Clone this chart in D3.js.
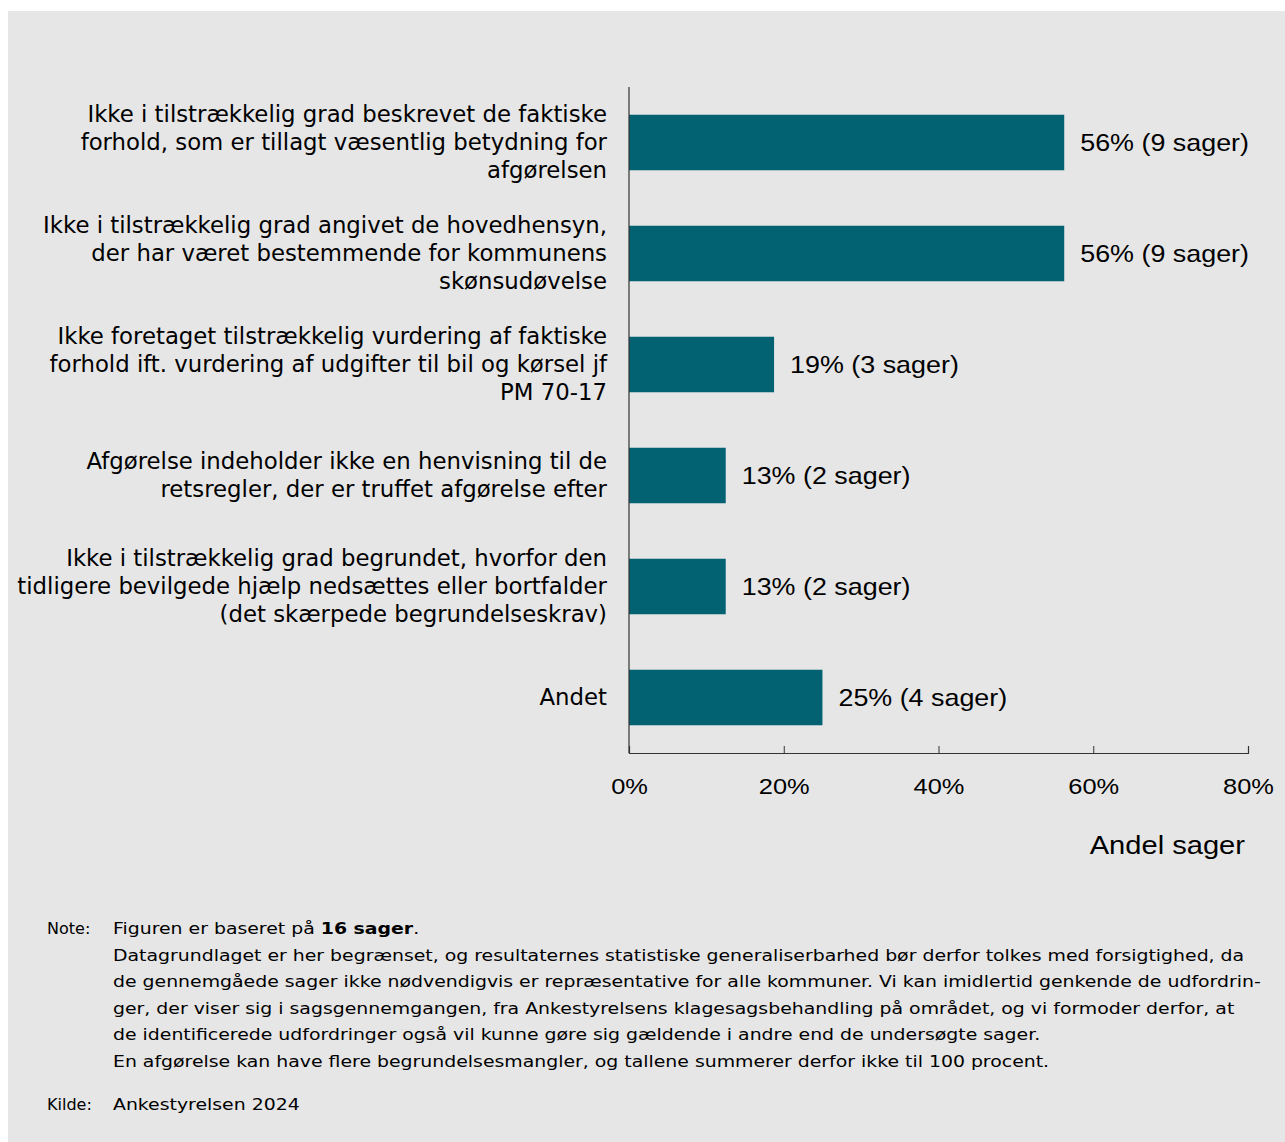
<!DOCTYPE html>
<html>
<head>
<meta charset="utf-8">
<script src="https://cdn.jsdelivr.net/npm/d3@7"></script>
<style>
  body { margin: 0; background: #ffffff; }
  svg { display: block; }
</style>
</head>
<body>
<div id="chart"></div>
<script>
// data
const kategorier = [
  ["Ikke i tilstrækkelig grad beskrevet de faktiske", "forhold, som er tillagt væsentlig betydning for", "afgørelsen"],
  ["Ikke i tilstrækkelig grad angivet de hovedhensyn,", "der har været bestemmende for kommunens", "skønsudøvelse"],
  ["Ikke foretaget tilstrækkelig vurdering af faktiske", "forhold ift. vurdering af udgifter til bil og kørsel jf", "PM 70-17"],
  ["Afgørelse indeholder ikke en henvisning til de", "retsregler, der er truffet afgørelse efter"],
  ["Ikke i tilstrækkelig grad begrundet, hvorfor den", "tidligere bevilgede hjælp nedsættes eller bortfalder", "(det skærpede begrundelseskrav)"],
  ["Andet"]
];
const andele = [0.5625, 0.5625, 0.1875, 0.125, 0.125, 0.25];
const sager = [9, 9, 3, 2, 2, 4];
const tickVaerdier = [0, 0.2, 0.4, 0.6, 0.8];

const noteLinjer = [
  "Datagrundlaget er her begrænset, og resultaternes statistiske generaliserbarhed bør derfor tolkes med forsigtighed, da",
  "de gennemgåede sager ikke nødvendigvis er repræsentative for alle kommuner. Vi kan imidlertid genkende de udfordrin-",
  "ger, der viser sig i sagsgennemgangen, fra Ankestyrelsens klagesagsbehandling på området, og vi formoder derfor, at",
  "de identificerede udfordringer også vil kunne gøre sig gældende i andre end de undersøgte sager.",
  "En afgørelse kan have flere begrundelsesmangler, og tallene summerer derfor ikke til 100 procent."
];

const W = 1285, H = 1142;
const arial = "Liberation Sans, Arial, sans-serif";
const svg = d3.select("#chart").append("svg")
  .attr("width", W)
  .attr("height", H);

svg.append("rect")
  .attr("x", 8).attr("y", 11)
  .attr("width", W - 8).attr("height", H - 11)
  .attr("fill", "#e6e6e6");

const x = d3.scaleLinear().domain([0, 0.8]).range([629, 1248]);
const y = d3.scaleBand().domain(d3.range(andele.length)).range([87, 753]).paddingInner(0.5).paddingOuter(0.25);

const g = svg.append("g");

// bars
g.selectAll("rect.bar")
  .data(andele)
  .join("rect")
  .attr("class", "bar")
  .attr("x", x(0))
  .attr("y", (d, i) => y(i))
  .attr("width", d => x(d) - x(0))
  .attr("height", y.bandwidth())
  .attr("fill", "#026272");

// value labels (the source text is a bit wider than Arial, so stretch it)
g.selectAll("text.val")
  .data(andele)
  .join("text")
  .attr("class", "val")
  .attr("transform", (d, i) => `translate(${x(d) + 16},${y(i) + y.bandwidth() / 2}) scale(1.12,1)`)
  .attr("dy", "0.35em")
  .attr("font-family", arial)
  .attr("font-size", 24)
  .attr("fill", "#000")
  .text((d, i) => Math.round(d * 100) + "% (" + sager[i] + " sager)");

// category labels
const lh = 28;
g.selectAll("text.cat")
  .data(kategorier)
  .join("text")
  .attr("class", "cat")
  .attr("text-anchor", "end")
  .attr("font-family", "DejaVu Sans, Verdana, sans-serif")
  .attr("font-size", 22.8)
  .attr("fill", "#000")
  .each(function(lines, i) {
    const cy = y(i) + y.bandwidth() / 2;
    const top = cy - (lines.length - 1) * lh / 2;
    d3.select(this).selectAll("tspan")
      .data(lines)
      .join("tspan")
      .attr("x", 607)
      .attr("y", (l, j) => top + j * lh)
      .attr("dy", "0.35em")
      .text(l => l);
  });

// x axis
const xAxis = d3.axisBottom(x)
  .tickValues(tickVaerdier)
  .tickSize(-7)
  .tickPadding(25)
  .tickFormat(d3.format(".0%"));

const ax = g.append("g")
  .attr("transform", "translate(0,753)")
  .call(xAxis);
ax.select(".domain").attr("stroke", "#333").attr("stroke-width", 1.2);
ax.selectAll(".tick line").attr("stroke", "#333");
ax.selectAll(".tick text")
  .attr("font-family", arial)
  .attr("font-size", 22.5)
  .attr("fill", "#000")
  .attr("transform", "scale(1.13,1)");

// y axis line
g.append("line")
  .attr("x1", x(0)).attr("x2", x(0))
  .attr("y1", 87).attr("y2", 753)
  .attr("stroke", "#333")
  .attr("stroke-width", 1.2);

svg.append("text")
  .attr("transform", "translate(1245,854) scale(1.12,1)")
  .attr("text-anchor", "end")
  .attr("font-family", arial)
  .attr("font-size", 26)
  .attr("fill", "#000")
  .text("Andel sager");

// note
const sx = 1.18;
const note = svg.append("g").attr("font-family", "DejaVu Sans, Verdana, sans-serif").attr("font-size", 16).attr("fill", "#000");
note.append("text").attr("x", 47).attr("y", 934).text("Note:");
const first = note.append("text").attr("transform", `translate(113,934) scale(${sx},1)`);
first.append("tspan").text("Figuren er baseret på ");
first.append("tspan").attr("font-weight", "bold").text("16 sager");
first.append("tspan").text(".");
note.selectAll("text.nl")
  .data(noteLinjer)
  .join("text")
  .attr("class", "nl")
  .attr("transform", (d, i) => `translate(113,${934 + (i + 1) * 26.6}) scale(${sx},1)`)
  .text(d => d);
note.append("text").attr("x", 47).attr("y", 1110).text("Kilde:");
note.append("text").attr("transform", `translate(113,1110) scale(${sx},1)`).text("Ankestyrelsen 2024");
</script>
</body>
</html>
